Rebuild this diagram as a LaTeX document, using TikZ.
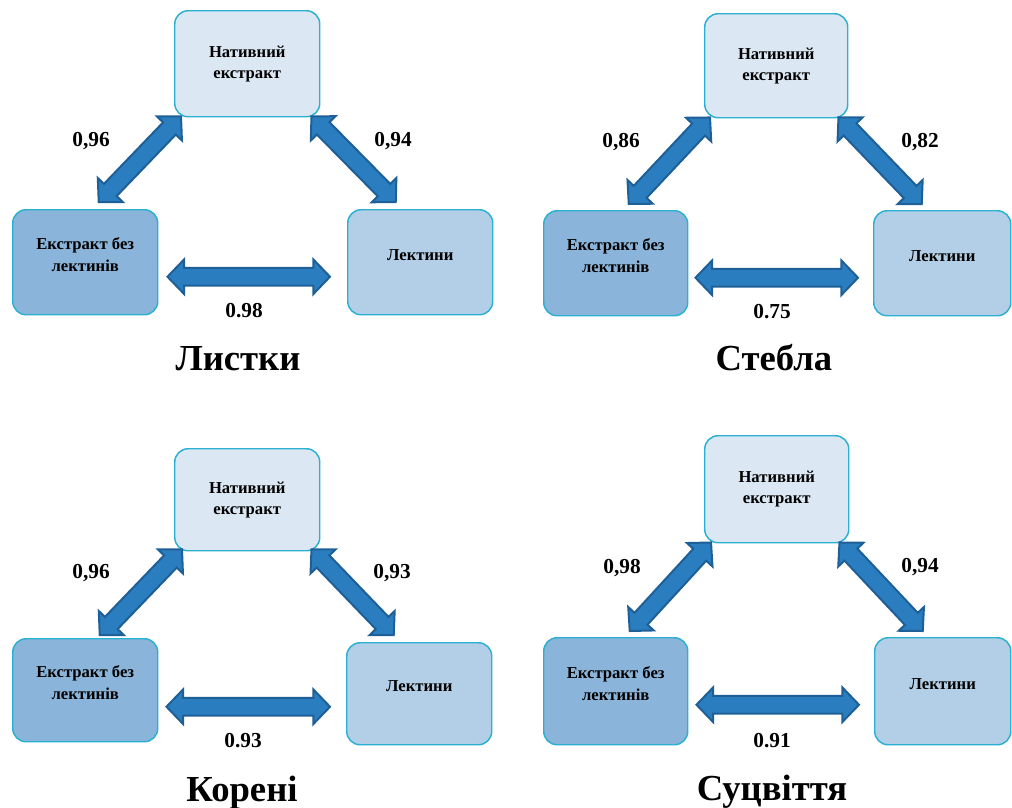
\documentclass[tikz,border=0pt]{standalone}
\usepackage{fontspec}
\setmainfont{Liberation Serif}
\usetikzlibrary{calc}
\definecolor{topc}{HTML}{DBE8F4}
\definecolor{lc}{HTML}{8AB4D9}
\definecolor{rc}{HTML}{B3CFE7}
\definecolor{bord}{HTML}{2AB0D0}
\definecolor{arrf}{HTML}{2A7EC0}
\definecolor{arrd}{HTML}{1E5F97}
\newcommand{\btf}{\fontsize{12.5}{16}\selectfont\bfseries}
\newcommand{\nmf}{\fontsize{16}{19}\selectfont\bfseries}
\newcommand{\ttf}{\fontsize{27.5}{32}\selectfont\bfseries}
\newcommand{\dblarrow}[2]{%
  \path ($(#1)!12.5pt!(#2)$) coordinate (da) ($(#2)!12.5pt!(#1)$) coordinate (db);
  \draw[arr] (#1) -- ($(da)!13pt!90:(#2)$) -- ($(da)!6.6pt!90:(#2)$)
    -- ($(db)!6.6pt!-90:(#1)$) -- ($(db)!13pt!-90:(#1)$) -- (#2)
    -- ($(db)!13pt!90:(#1)$) -- ($(db)!6.6pt!90:(#1)$)
    -- ($(da)!6.6pt!-90:(#2)$) -- ($(da)!13pt!-90:(#2)$) -- cycle;}
\begin{document}
\begin{tikzpicture}[x=0.75pt,y=-0.75pt,
  box/.style={draw=bord, line width=1.1pt, rounded corners=10pt, anchor=north west,
    minimum width=108.75pt, minimum height=78.75pt, inner sep=0pt},
  btxt/.style={font=\btf, align=center, yshift=5.6pt, text=black},
  num/.style={font=\nmf, anchor=base, inner sep=0pt},
  ttl/.style={font=\ttf, anchor=base, inner sep=0pt},
  arr/.style={fill=arrf, draw=arrd, line width=1.5pt, line join=miter}]
\useasboundingbox (0,0) rectangle (1012,807);

% ---------- Panel 1: Листки ----------
\node[box, fill=topc, minimum height=79.5pt, font=\btf, align=center] (p1t) at (174,10) {Нативний\\екстракт};
\node[box, fill=lc, label={[btxt]center:Екстракт без\\лектинів}] (p1l) at (12,209) {};
\node[box, fill=rc, label={[btxt]center:Лектини}] (p1r) at (347,209) {};
\coordinate (p1a) at ([shift={(7,-1)}]p1t.south west);
\coordinate (p1b) at ([shift={(13.5,-7)}]p1l.north);
\coordinate (p1c) at ([shift={(-9,-1)}]p1t.south east);
\coordinate (p1d) at ([shift={(-24.5,-7)}]p1r.north);
\coordinate (p1e) at ([shift={(9,14.5)}]p1l.east);
\coordinate (p1f) at ([shift={(-17,14.5)}]p1r.west);
\dblarrow{p1b}{p1a}
\dblarrow{p1c}{p1d}
\dblarrow{p1e}{p1f}
\node[num] (n1a) at (91,146) {0,96};
\node[num] (n1b) at (393,146) {0,94};
\node[num] (n1c) at (244,317) {0.98};
\node[ttl] (t1) at (238,370) {Листки};

% ---------- Panel 2: Стебла ----------
\node[box, fill=topc, minimum width=107.25pt, minimum height=78pt, font=\btf, align=center] (p2t) at (704,13) {Нативний\\екстракт};
\node[box, fill=lc, minimum width=108pt, label={[btxt]center:Екстракт без\\лектинів}] (p2l) at (543,210) {};
\node[box, fill=rc, minimum width=102.75pt, label={[btxt]center:Лектини}] (p2r) at (873,210) {};
\coordinate (p2a) at ([shift={(6,-1)}]p2t.south west);
\coordinate (p2b) at ([shift={(13,-6)}]p2l.north);
\coordinate (p2c) at ([shift={(-10,-1)}]p2t.south east);
\coordinate (p2d) at ([shift={(-20.5,-6)}]p2r.north);
\coordinate (p2e) at ([shift={(7,14.5)}]p2l.east);
\coordinate (p2f) at ([shift={(-15,14.5)}]p2r.west);
\dblarrow{p2b}{p2a}
\dblarrow{p2c}{p2d}
\dblarrow{p2e}{p2f}
\node[num] (n2a) at (621,147) {0,86};
\node[num] (n2b) at (920,147) {0,82};
\node[num] (n2c) at (772,318) {0.75};
\node[ttl] (t2) at (774,370) {Стебла};

% ---------- Panel 3: Корені ----------
\node[box, fill=topc, minimum height=76.5pt, font=\btf, align=center] (p3t) at (174,448) {Нативний\\екстракт};
\node[box, fill=lc, minimum height=77.25pt, label={[btxt]center:Екстракт без\\лектинів}] (p3l) at (12,638) {};
\node[box, fill=rc, minimum height=76.5pt, label={[btxt]center:Лектини}] (p3r) at (346,642) {};
\coordinate (p3a) at ([shift={(8,-2)}]p3t.south west);
\coordinate (p3b) at ([shift={(14.5,-3)}]p3l.north);
\coordinate (p3c) at ([shift={(-9,-2)}]p3t.south east);
\coordinate (p3d) at ([shift={(-25.5,-7)}]p3r.north);
\coordinate (p3e) at ([shift={(8,16.5)}]p3l.east);
\coordinate (p3f) at ([shift={(-16,13)}]p3r.west);
\dblarrow{p3b}{p3a}
\dblarrow{p3c}{p3d}
\dblarrow{p3e}{p3f}
\node[num] (n3a) at (91,578) {0,96};
\node[num] (n3b) at (392,578) {0,93};
\node[num] (n3c) at (243,747) {0.93};
\node[ttl] (t3) at (242,801) {Корені};

% ---------- Panel 4: Суцвіття ----------
\node[box, fill=topc, minimum width=108pt, minimum height=80.25pt, font=\btf, align=center] (p4t) at (704,435) {Нативний\\екстракт};
\node[box, fill=lc, minimum width=108pt, minimum height=80.25pt, label={[btxt]center:Екстракт без\\лектинів}] (p4l) at (543,637) {};
\node[box, fill=rc, minimum width=102pt, minimum height=80.25pt, label={[btxt]center:Лектини}] (p4r) at (874,637) {};
\coordinate (p4a) at ([shift={(7,-1)}]p4t.south west);
\coordinate (p4b) at ([shift={(14,-6)}]p4l.north);
\coordinate (p4c) at ([shift={(-10,-1)}]p4t.south east);
\coordinate (p4d) at ([shift={(-20,-6)}]p4r.north);
\coordinate (p4e) at ([shift={(8,13.5)}]p4l.east);
\coordinate (p4f) at ([shift={(-15,13.5)}]p4r.west);
\dblarrow{p4b}{p4a}
\dblarrow{p4c}{p4d}
\dblarrow{p4e}{p4f}
\node[num] (n4a) at (622,573) {0,98};
\node[num] (n4b) at (920,572) {0,94};
\node[num] (n4c) at (772,747) {0.91};
\node[ttl] (t4) at (772,800) {Суцвіття};
\end{tikzpicture}
\end{document}
